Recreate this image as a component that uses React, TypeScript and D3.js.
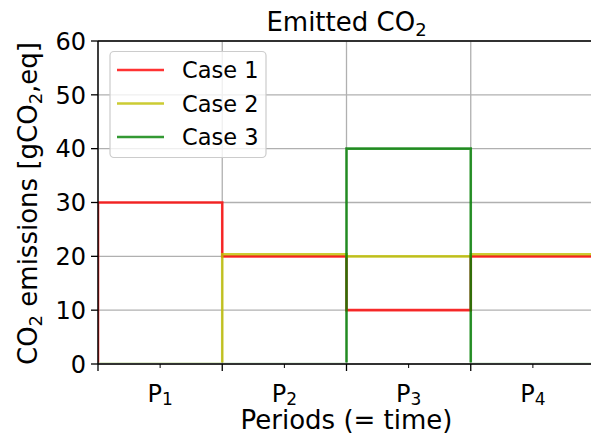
import React from "react";
import * as d3 from "d3";

const periodLabels = ["P1", "P2", "P3", "P4"];
const yTicks = [0, 10, 20, 30, 40, 50, 60];
const seriesNames = ["Case 1", "Case 2", "Case 3"];
const case1 = [30, 20, 10, 20];
const case2 = [0, 20.4, 20, 20.4];
const case3 = [0, 0, 40, 0];
const seriesColors = ["#ff0000", "#bfbf00", "#008000"];

const W = 591;
const H = 434;
const M = { left: 98, top: 41, right: 595, bottom: 364 };
const FONT = "DejaVu Sans";

export default function App() {
  const x = d3.scaleLinear().domain([0, 4]).range([M.left, M.right]);
  const y = d3.scaleLinear().domain([0, 60]).range([M.bottom, M.top]);
  const allSeries = [case1, case2, case3];

  const line = d3
    .line<[number, number]>()
    .x((d) => x(d[0]))
    .y((d) => y(d[1]))
    .curve(d3.curveStepAfter);

  const pathFor = (vals: number[]) => {
    const pts: [number, number][] = [[0, 0]];
    vals.forEach((v, i) => pts.push([i, v]));
    pts.push([vals.length, vals[vals.length - 1]]);
    return line(pts) || "";
  };

  const majorX = d3.range(0, 5);
  const minorX = periodLabels.map((_, i) => i + 0.5);

  return (
    <svg
      width={W}
      height={H}
      style={{ position: "absolute", left: 0, top: 0, background: "#fff" }}
      fontFamily={FONT}
    >
      <defs>
        <clipPath id="plotclip">
          <rect x={M.left} y={M.top} width={M.right - M.left} height={M.bottom - M.top - 1.6} />
        </clipPath>
      </defs>
      <rect x={0} y={0} width={W} height={H} fill="#fff" />
      {/* grid */}
      <g stroke="#b0b0b0" strokeWidth={1.3}>
        {majorX.map((t) => (
          <line key={"gx" + t} x1={x(t)} x2={x(t)} y1={M.top} y2={M.bottom} />
        ))}
        {yTicks.map((t) => (
          <line key={"gy" + t} x1={M.left} x2={M.right} y1={y(t)} y2={y(t)} />
        ))}
      </g>
      {/* series */}
      <g clipPath="url(#plotclip)" fill="none">
        {allSeries.map((s, i) => (
          <path
            key={seriesNames[i]}
            d={pathFor(s)}
            stroke={seriesColors[i]}
            strokeOpacity={0.8}
            strokeWidth={2.6}
            strokeLinejoin="miter"
          />
        ))}
      </g>
      {/* spines */}
      <g stroke="#000" strokeWidth={1.4} fill="none">
        <line x1={M.left} x2={M.left} y1={M.top} y2={M.bottom} />
        <line x1={M.left} x2={M.right} y1={M.bottom} y2={M.bottom} />
        <line x1={M.left} x2={M.right} y1={M.top} y2={M.top} />
        <line x1={M.right} x2={M.right} y1={M.top} y2={M.bottom} />
      </g>
      {/* y ticks */}
      <g>
        {yTicks.map((t) => (
          <g key={"yt" + t}>
            <line x1={M.left - 7} x2={M.left} y1={y(t)} y2={y(t)} stroke="#000" strokeWidth={1.3} />
            <text x={M.left - 12} y={y(t) + 8.7} textAnchor="end" fontSize={24} fill="#000">
              {t}
            </text>
          </g>
        ))}
      </g>
      {/* x ticks */}
      <g>
        {majorX.map((t) => (
          <line key={"xm" + t} x1={x(t)} x2={x(t)} y1={M.bottom} y2={M.bottom + 7} stroke="#000" strokeWidth={1.3} />
        ))}
        {minorX.map((t, i) => (
          <g key={"xn" + t}>
            <line x1={x(t)} x2={x(t)} y1={M.bottom} y2={M.bottom + 4} stroke="#000" strokeWidth={1} />
            <text x={x(t)} y={401.5} textAnchor="middle" fontSize={24} fill="#000">
              {periodLabels[i].slice(0, 1)}
              <tspan fontSize={17} dy={3.5}>
                {periodLabels[i].slice(1)}
              </tspan>
            </text>
          </g>
        ))}
      </g>
      {/* title */}
      <text x={(M.left + M.right) / 2} y={31} textAnchor="middle" fontSize={26} fill="#000">
        Emitted CO
        <tspan fontSize={18} dy={5}>2</tspan>
      </text>
      {/* axis labels */}
      <text x={(M.left + M.right) / 2} y={428.5} textAnchor="middle" fontSize={26} fill="#000">
        Periods (= time)
      </text>
      <text
        transform={`translate(37, ${(M.top + M.bottom) / 2 + 1}) rotate(-90)`}
        textAnchor="middle"
        fontSize={26}
        fill="#000"
      >
        CO<tspan fontSize={18} dy={5}>2</tspan>
        <tspan dy={-5}> emissions [gCO</tspan>
        <tspan fontSize={18} dy={5}>2</tspan>
        <tspan dy={-5}>,eq]</tspan>
      </text>
      {/* legend */}
      <g>
        <rect x={110} y={51.5} width={156} height={106} rx={4} fill="#fff" fillOpacity={0.8} stroke="#cccccc" strokeWidth={1.2} />
        {seriesNames.map((n, i) => {
          const cy = 70 + i * 33.5;
          return (
            <g key={"lg" + n}>
              <line x1={117} x2={164} y1={cy} y2={cy} stroke={seriesColors[i]} strokeOpacity={0.8} strokeWidth={2.6} />
              <text x={182} y={cy + 8.3} fontSize={22.5} fill="#000">
                {n}
              </text>
            </g>
          );
        })}
      </g>
    </svg>
  );
}
